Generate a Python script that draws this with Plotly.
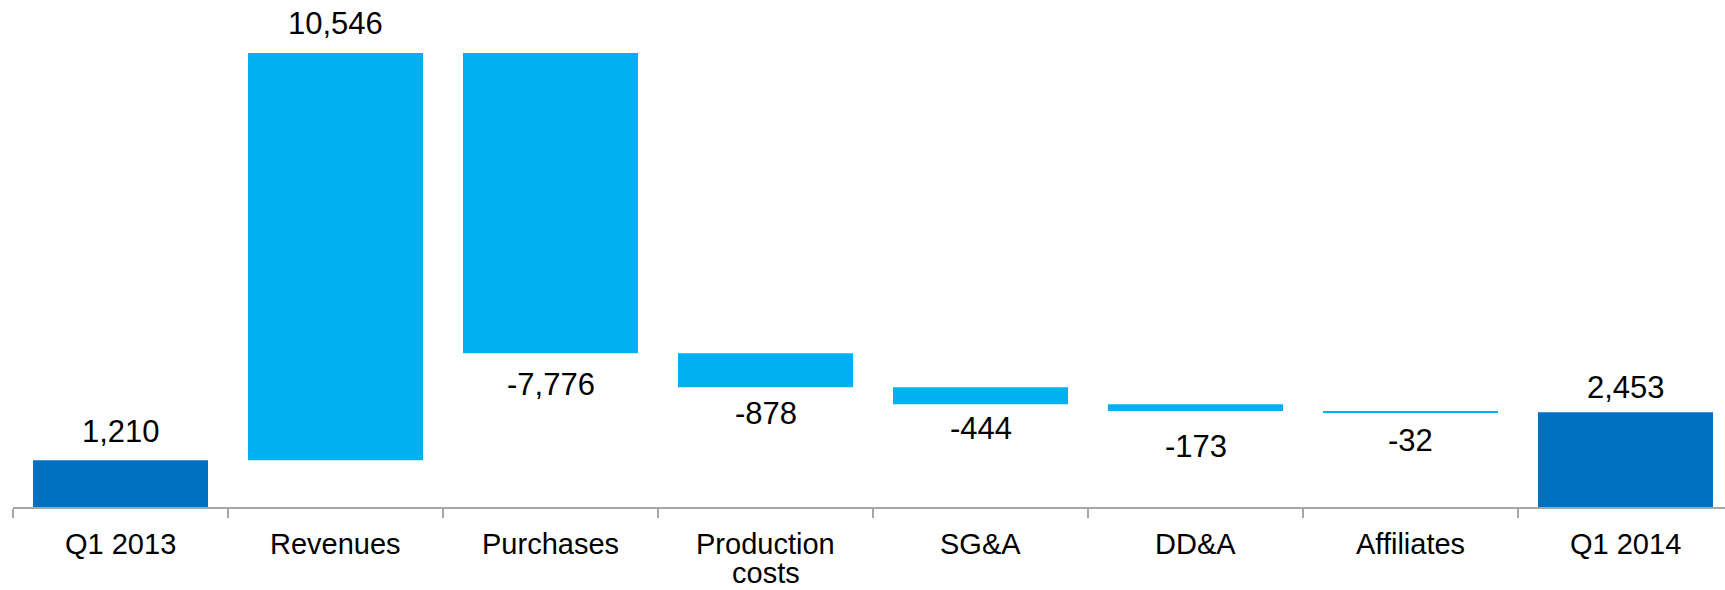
import numpy as np
import plotly.graph_objects as go

# Operating result bridge, Q1 2013 -> Q1 2014
categories = ["Q1 2013", "Revenues", "Purchases", "Production<br>costs",
              "SG&A", "DD&A", "Affiliates", "Q1 2014"]
values = [1210, 10546, -7776, -878, -444, -173, -32, 2453]
measures = ["absolute", "relative", "relative", "relative",
            "relative", "relative", "relative", "total"]
labels = ["1,210", "10,546", "-7,776", "-878", "-444", "-173", "-32", "2,453"]

# Vertical distance (px) of each value label from the end of its bar
label_offsets = [29, 30, -31, -26, -24, -35, -28, 25]

TOTAL_COLOR = "#0070C0"
STEP_COLOR = "#00B0F0"
AXIS_COLOR = "#A6A6A6"
FONT = "Liberation Sans, Arial, sans-serif"

fig = go.Figure(go.Waterfall(
    x=categories,
    y=values,
    measure=measures,
    width=0.814,
    totals=dict(marker=dict(color=TOTAL_COLOR)),
    increasing=dict(marker=dict(color=STEP_COLOR)),
    decreasing=dict(marker=dict(color=STEP_COLOR)),
    connector=dict(visible=False),
    showlegend=False,
    hoverinfo="skip",
))

# Running level after each step, used to place the value labels
steps = np.array(values[:-1], dtype=float)
ends = list(np.cumsum(steps)) + [values[-1]]

for cat, end, lab, off in zip(categories, ends, labels, label_offsets):
    fig.add_annotation(
        x=cat, y=end, text=lab, showarrow=False,
        yanchor="middle", yshift=off,
        font=dict(family=FONT, size=31, color="#000000"),
    )

# Category names under the axis, one line at a time for tight line spacing
for cat in categories:
    for j, line in enumerate(cat.split("<br>")):
        fig.add_annotation(
            x=cat, y=0, text=line, showarrow=False,
            yanchor="middle", yshift=-37 - 29 * j, borderpad=0,
            font=dict(family=FONT, size=29, color="#000000"),
        )

fig.update_layout(
    width=1725, height=590,
    margin=dict(l=13, r=0, t=53, b=83),
    paper_bgcolor="white", plot_bgcolor="white",
    font=dict(family=FONT, size=29, color="#000000"),
)
fig.update_xaxes(
    type="category",
    range=[-0.5, -0.5 + 1712 / 215],
    showline=True, linecolor=AXIS_COLOR, linewidth=2,
    ticks="outside", tickson="boundaries", ticklen=9, tickcolor=AXIS_COLOR, tickwidth=2,
    showticklabels=False,
    showgrid=False, zeroline=False,
)
fig.update_yaxes(range=[0, 11756], visible=False, showgrid=False, zeroline=False)

fig.write_html("out.html")
